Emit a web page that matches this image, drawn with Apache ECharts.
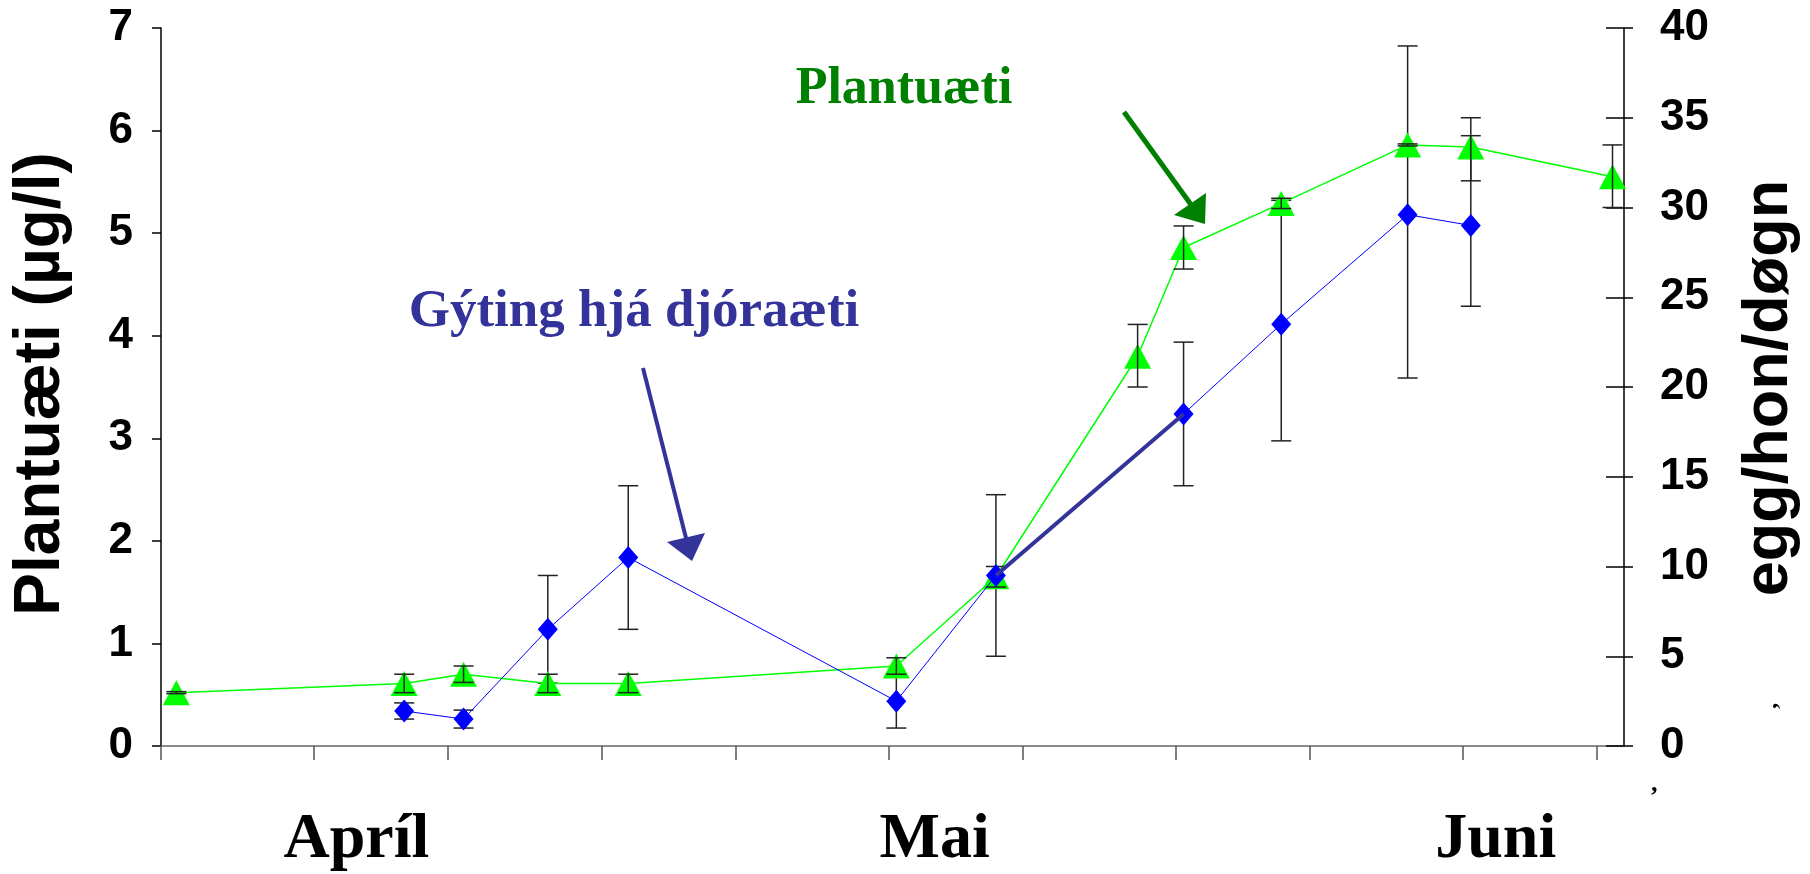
<!DOCTYPE html>
<html>
<head>
<meta charset="utf-8">
<title>Plantuæti og gýting</title>
<script src="https://cdn.jsdelivr.net/npm/echarts@6/dist/echarts.min.js"></script>
<style>
  html, body { margin: 0; padding: 0; background: #fff; }
  #chart { width: 1810px; height: 874px; }
</style>
</head>
<body>
<div id="chart"></div>
<script>
// x = days from the start of the axis (about 1. apríl)
const plantDays = [0.8, 12.7, 15.8, 20.2, 24.4, 38.4, 43.6, 51.0, 53.4, 58.5, 65.1, 68.4, 75.8];
const plantValues = [0.52, 0.61, 0.70, 0.61, 0.61, 0.78, 1.65, 3.80, 4.86, 5.29, 5.86, 5.84, 5.55];
const plantLow = [0.51, 0.52, 0.62, 0.52, 0.52, 0.70, 1.55, 3.50, 4.65, 5.24, 5.85, 5.51, 5.25];
const plantHigh = [0.53, 0.70, 0.78, 0.70, 0.70, 0.86, 1.75, 4.11, 5.07, 5.34, 5.87, 5.95, 5.86];

// egg/hon/døgn (right axis)
const eggDays = [12.7, 15.8, 20.2, 24.4, 38.4, 43.6, 53.4, 58.5, 65.1, 68.4];
const eggValues = [1.95, 1.5, 6.5, 10.5, 2.5, 9.5, 18.5, 23.5, 29.6, 29.0];
const eggLow = [1.5, 1.0, 3.5, 6.5, 1.0, 5.0, 14.5, 17.0, 20.5, 24.5];
const eggHigh = [2.4, 2.0, 9.5, 14.5, 4.0, 14.0, 22.5, 30.4, 39.0, 35.0];

const tickDays = [0, 8, 15, 23, 30, 38, 45, 53, 60, 68, 75];
const monthNames = ['Apríl', 'Mai', 'Juni'];
const monthDays = [10.2, 40.4, 69.7];

const chart = echarts.init(document.getElementById('chart'));

const tickFont = { fontFamily: 'Liberation Sans', fontWeight: 'bold', fontSize: 44, color: '#000' };
const titleFont = { fontFamily: 'Liberation Sans', fontWeight: 'bold', fontSize: 64, color: '#000' };

function errorBars(days, low, high, axisIndex, z) {
  return {
    type: 'custom',
    yAxisIndex: axisIndex,
    z: z,
    silent: true,
    data: days.map((d, i) => [d, low[i], high[i]]),
    encode: { x: 0, y: [1, 2] },
    renderItem: function (params, api) {
      const x = api.value(0);
      const lo = api.coord([x, api.value(1)]);
      const hi = api.coord([x, api.value(2)]);
      const w = 10;
      const style = { stroke: '#222', lineWidth: 1.5 };
      return {
        type: 'group',
        children: [
          { type: 'line', shape: { x1: lo[0], y1: lo[1], x2: hi[0], y2: hi[1] }, style: style },
          { type: 'line', shape: { x1: lo[0] - w, y1: lo[1], x2: lo[0] + w, y2: lo[1] }, style: style },
          { type: 'line', shape: { x1: hi[0] - w, y1: hi[1], x2: hi[0] + w, y2: hi[1] }, style: style }
        ]
      };
    }
  };
}

const option = {
  backgroundColor: '#fff',
  animation: false,
  grid: { left: 161, right: 186, top: 28, bottom: 128, outerBoundsMode: 'none' },
  xAxis: {
    type: 'value',
    min: 0,
    max: 76.4,
    axisLine: { show: true, onZero: false, lineStyle: { color: '#666', width: 1.5 } },
    axisTick: { show: true, customValues: tickDays, length: 14, lineStyle: { color: '#555', width: 1.5 } },
    axisLabel: {
      customValues: monthDays,
      formatter: function (v) {
        const i = monthDays.indexOf(v);
        return i >= 0 ? monthNames[i] : '';
      },
      margin: 62,
      fontFamily: 'Liberation Serif',
      fontWeight: 'bold',
      fontSize: 64,
      color: '#000'
    },
    splitLine: { show: false }
  },
  yAxis: [
    {
      type: 'value',
      position: 'left',
      min: 0,
      max: 7,
      interval: 1,
      name: 'Plantuæti (µg/l)',
      nameLocation: 'middle',
      nameRotate: 90,
      nameGap: 88,
      nameTextStyle: Object.assign({ padding: [0, 0, 0, 6] }, titleFont),
      axisLine: { show: true, onZero: false, lineStyle: { color: '#000', width: 1.5 } },
      axisTick: { show: true, length: 9, lineStyle: { color: '#000', width: 1.5 } },
      axisLabel: Object.assign({ margin: 28 }, tickFont),
      splitLine: { show: false }
    },
    {
      type: 'value',
      position: 'right',
      min: 0,
      max: 40,
      interval: 5,
      name: 'egg/hon/døgn',
      nameLocation: 'middle',
      nameRotate: 90,
      nameGap: 114,
      nameTextStyle: Object.assign({ padding: [0, 2, 0, 0] }, titleFont, { fontSize: 63 }),
      axisLine: { show: true, onZero: false, lineStyle: { color: '#000', width: 1.5 } },
      axisTick: { show: true, length: 9, lineStyle: { color: '#000', width: 1.5 } },
      axisLabel: Object.assign({ margin: 36 }, tickFont),
      splitLine: { show: false }
    },
    {
      // inner half of the crossing ticks on the right axis
      type: 'value',
      position: 'right',
      min: 0,
      max: 40,
      interval: 5,
      axisLine: { show: false, onZero: false },
      axisTick: { show: true, inside: true, length: 18, lineStyle: { color: '#000', width: 1.5 } },
      axisLabel: { show: false },
      splitLine: { show: false }
    }
  ],
  series: [
    errorBars(eggDays, eggLow, eggHigh, 1, 1),
    {
      name: 'Plantuæti',
      type: 'line',
      yAxisIndex: 0,
      z: 2,
      data: plantDays.map((d, i) => [d, plantValues[i]]),
      symbol: 'triangle',
      symbolSize: [27, 25],
      itemStyle: { color: '#00ff00' },
      lineStyle: { color: '#00ff00', width: 1.5 }
    },
    errorBars(plantDays, plantLow, plantHigh, 0, 3),
    {
      name: 'Gýting',
      type: 'line',
      yAxisIndex: 1,
      z: 4,
      data: eggDays.map((d, i) => [d, eggValues[i]]),
      symbol: 'diamond',
      symbolSize: [20, 23],
      itemStyle: { color: '#0000ff' },
      lineStyle: { color: '#0000ff', width: 1 }
    },
    {
      // thick drawn segment between the 6th and 7th egg points
      type: 'line',
      yAxisIndex: 1,
      z: 5,
      data: [[eggDays[5], eggValues[5]], [eggDays[6], eggValues[6]]],
      symbol: 'none',
      lineStyle: { color: '#333399', width: 4 }
    }
  ],
  graphic: [
    {
      type: 'text', x: 904, y: 90,
      style: { text: 'Plantuæti', fill: '#008000', font: 'bold 52px "Liberation Serif"', align: 'center', verticalAlign: 'middle' }
    },
    {
      type: 'text', x: 634, y: 312,
      style: { text: 'Gýting hjá djóraæti', fill: '#333399', font: 'bold 53px "Liberation Serif"', align: 'center', verticalAlign: 'middle' }
    },
    { type: 'line', shape: { x1: 643, y1: 368, x2: 687, y2: 542 }, style: { stroke: '#333399', lineWidth: 4 } },
    { type: 'polygon', shape: { points: [[692, 561], [667, 542], [705, 533]] }, style: { fill: '#333399' } },
    { type: 'line', shape: { x1: 1124, y1: 112, x2: 1192, y2: 206 }, style: { stroke: '#008000', lineWidth: 5 } },
    { type: 'polygon', shape: { points: [[1205, 224], [1174, 215], [1206, 193]] }, style: { fill: '#008000' } },
    {
      type: 'text', x: 1654, y: 797,
      style: { text: '\u2019', fill: '#000', font: 'bold 26px "Liberation Serif"', align: 'center', verticalAlign: 'middle' }
    },
    {
      type: 'text', x: 1782, y: 706, rotation: Math.PI / 2,
      style: { text: '\u2019', fill: '#000', font: 'bold 24px "Liberation Serif"', align: 'center', verticalAlign: 'middle' }
    }
  ]
};

chart.setOption(option);
</script>
</body>
</html>
